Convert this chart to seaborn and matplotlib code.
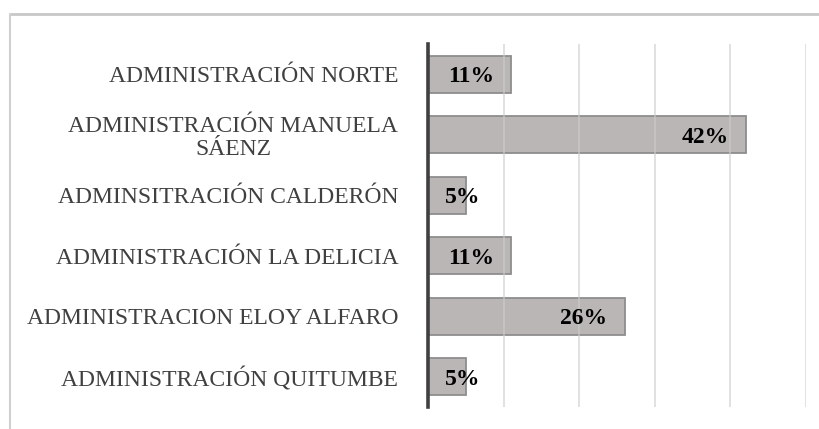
import matplotlib
matplotlib.use("Agg")
import matplotlib.pyplot as plt
from matplotlib.lines import Line2D
import seaborn as sns
import pandas as pd

# --- data ---
categories = [
    "ADMINISTRACIÓN NORTE",
    "ADMINISTRACIÓN MANUELA\nSÁENZ",
    "ADMINSITRACIÓN CALDERÓN",
    "ADMINISTRACIÓN LA DELICIA",
    "ADMINISTRACION ELOY ALFARO",
    "ADMINISTRACIÓN QUITUMBE",
]
percentages = [11, 42, 5, 11, 26, 5]
grid_ticks = [10, 20, 30, 40, 50]

df = pd.DataFrame({"Administracion": categories, "Porcentaje": percentages})

sns.set_style("white")
plt.rcParams["font.family"] = ["Liberation Serif", "DejaVu Serif"]

W, H = 820, 429
fig = plt.figure(figsize=(W / 100, H / 100), dpi=100)
ax = fig.add_axes([428 / W, 1 - 407 / H, 378 / W, 363 / H])

sns.barplot(data=df, x="Porcentaje", y="Administracion", orient="h",
            color="#BAB6B5", edgecolor="#8E8E8E", linewidth=1.3,
            width=0.61, saturation=1, ax=ax, zorder=2)

ax.set_xlim(0, 50)
ax.set_ylim(5.5, -0.5)
ax.set_xticks(grid_ticks)
ax.set_xticklabels([])
ax.tick_params(axis="x", length=0)
ax.tick_params(axis="y", length=0, pad=21.5, labelsize=17, labelcolor="#404040")
for lbl in ax.get_yticklabels():
    lbl.set_multialignment("center")
    lbl.set_linespacing(1.1)
ax.set_xlabel("")
ax.set_ylabel("")

# gridlines drawn over the bars, slightly transparent
for t in grid_ticks:
    ax.axvline(t, color="#CDCDCD", lw=1.1, alpha=0.76, zorder=3)

for side in ["top", "right", "bottom"]:
    ax.spines[side].set_visible(False)
ax.spines["left"].set_color("#404040")
ax.spines["left"].set_linewidth(2.6)
ax.spines["left"].set_zorder(4)

# value labels: inside end, but pushed right of the axis for short bars
pad = 2.25
for i, v in enumerate(percentages):
    if v < 10:
        ax.text(pad, i + 0.04, f"{v}%", ha="left", va="center",
                fontsize=17, fontweight="bold", color="black", zorder=5)
    else:
        ax.text(v - pad, i + 0.04, f"{v}%", ha="right", va="center",
                fontsize=17, fontweight="bold", color="black", zorder=5)

# outer chart frame (only top and left edges visible)
fig.add_artist(Line2D([10 / W, 1], [1 - 14 / H, 1 - 14 / H], color="#C8C8C8", lw=2))
fig.add_artist(Line2D([10 / W, 10 / W], [0, 1 - 14 / H], color="#D0D0D0", lw=1.5))

fig.savefig("out.png", dpi=100)
